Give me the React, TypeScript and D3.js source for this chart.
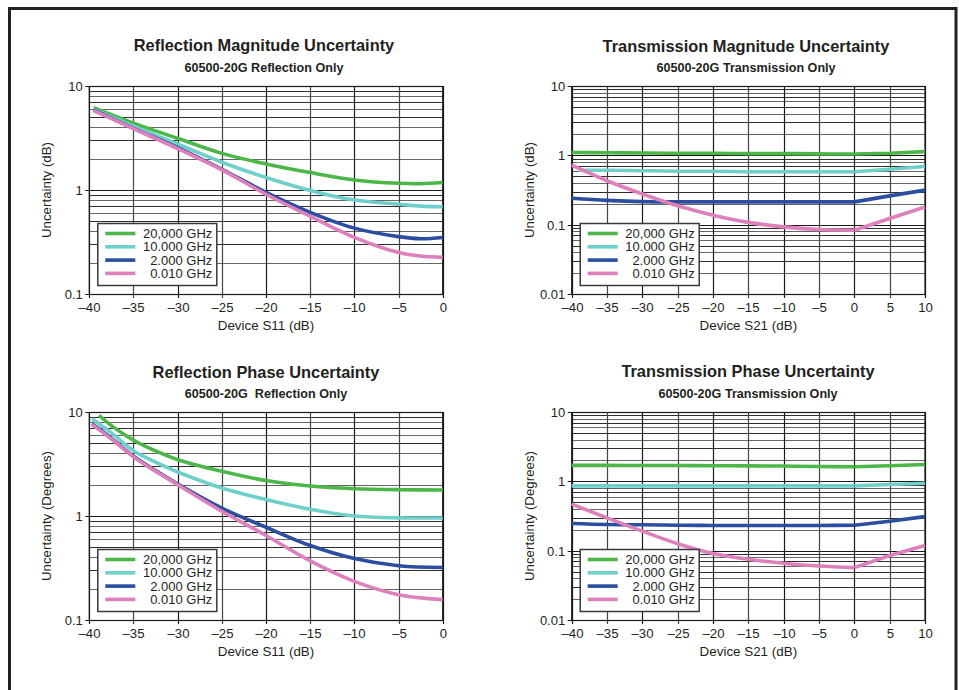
import React from 'react';
import * as d3 from 'd3';

const COLORS = ['#4cb748', '#6fcfcb', '#2b4ea1', '#dd80bb'];
const LEGEND_LABELS = ['20,000 GHz', '10.000 GHz', '2.000 GHz', '0.010 GHz'];

const X_TICKS_REFL = [-40, -35, -30, -25, -20, -15, -10, -5, 0];
const X_TICKS_TRANS = [-40, -35, -30, -25, -20, -15, -10, -5, 0, 5, 10];
const Y_TICKS_REFL = [0.1, 1, 10];
const Y_TICKS_TRANS = [0.01, 0.1, 1, 10];

// Reflection Magnitude
const rmX = [-39.5, -35, -30, -25, -20, -15, -10, -5, -2.5, 0];
const rmGreen = [6.2, 4.4, 3.14, 2.25, 1.78, 1.47, 1.25, 1.16, 1.15, 1.18];
const rmCyan = [6.0, 4.12, 2.77, 1.85, 1.32, 0.99, 0.8, 0.73, 0.7, 0.69];
const rmBlue = [5.9, 3.92, 2.55, 1.58, 0.95, 0.61, 0.43, 0.356, 0.34, 0.35];
const rmPink = [5.8, 3.9, 2.5, 1.56, 0.91, 0.56, 0.35, 0.25, 0.232, 0.225];

// Transmission Magnitude
const tmX = [-40, -35, -30, -25, -20, -15, -10, -5, 0, 5, 10];
const tmCyanX = [-39, -35, -30, -25, -20, -15, -10, -5, 0, 5, 10];
const tmGreen = [1.1, 1.09, 1.08, 1.07, 1.07, 1.06, 1.06, 1.05, 1.045, 1.07, 1.13];
const tmCyan = [0.61, 0.61, 0.6, 0.59, 0.59, 0.58, 0.58, 0.58, 0.58, 0.63, 0.69];
const tmBlue = [0.24, 0.224, 0.215, 0.213, 0.213, 0.213, 0.213, 0.213, 0.213, 0.26, 0.315];
const tmPink = [0.72, 0.43, 0.277, 0.187, 0.137, 0.108, 0.093, 0.085, 0.083, 0.123, 0.18];

// Reflection Phase
const rpGreenX = [-38.9, -37.5, -35, -32.5, -30, -25, -20, -15, -10, -5, 0];
const rpX = [-39.7, -37.5, -35, -32.5, -30, -25, -20, -15, -10, -5, 0];
const rpGreen = [9.3, 7.4, 5.35, 4.22, 3.48, 2.69, 2.19, 1.94, 1.83, 1.79, 1.78];
const rpCyan = [8.6, 6.3, 4.25, 3.3, 2.65, 1.86, 1.44, 1.16, 1.0, 0.96, 0.957];
const rpBlue = [7.7, 5.6, 3.75, 2.73, 2.03, 1.19, 0.78, 0.52, 0.39, 0.333, 0.32];
const rpPink = [7.6, 5.5, 3.7, 2.69, 2.0, 1.11, 0.65, 0.37, 0.235, 0.175, 0.157];

// Transmission Phase
const tpX = [-40, -35, -30, -25, -20, -15, -10, -5, 0, 5, 10];
const tpGreen = [1.7, 1.7, 1.69, 1.69, 1.68, 1.67, 1.66, 1.64, 1.62, 1.68, 1.75];
const tpCyan = [0.86, 0.86, 0.86, 0.86, 0.86, 0.86, 0.86, 0.86, 0.86, 0.9, 0.94];
const tpBlue = [0.246, 0.238, 0.236, 0.233, 0.231, 0.231, 0.231, 0.231, 0.233, 0.266, 0.31];
const tpPink = [0.47, 0.297, 0.191, 0.126, 0.091, 0.075, 0.066, 0.06, 0.057, 0.085, 0.119];

const FONT = "'Liberation Sans', Arial, Helvetica, sans-serif";
const TEXT = '#231f20';

type Series = { xs: number[]; ys: number[]; color: string };

interface PanelProps {
  left: number; top: number; right: number; bottom: number;
  xDomain: [number, number]; yDomain: [number, number];
  xTicks: number[]; yTicks: number[];
  title: string; subtitle: string; titleX: number; titleY: number; subtitleY: number;
  xLabel: string; yLabel: string; yLabelX: number;
  series: Series[]; split: boolean;
}

const fmtX = (v: number) => (v < 0 ? '\u2013' + Math.abs(v) : String(v));

function Panel(p: PanelProps) {
  const x = d3.scaleLinear().domain(p.xDomain).range([p.left, p.right]);
  const y = d3.scaleLog().domain(p.yDomain).range([p.bottom, p.top]);
  const lo = Math.round(Math.log10(p.yDomain[0]));
  const hi = Math.round(Math.log10(p.yDomain[1]));
  const hLines: { v: number; k: number }[] = [];
  for (let d = lo; d < hi; d++) {
    for (let k = 1; k <= 9; k++) hLines.push({ v: k * Math.pow(10, d), k });
  }
  hLines.push({ v: Math.pow(10, hi), k: 1 });
  const smooth = d3.line<[number, number]>().x(d => x(d[0])).y(d => y(d[1])).curve(d3.curveCatmullRom.alpha(0.5));
  const straight = d3.line<[number, number]>().x(d => x(d[0])).y(d => y(d[1]));
  const paths: { d: string; color: string }[] = [];
  p.series.forEach(s => {
    const pts: [number, number][] = s.xs.map((xv, i) => [xv, s.ys[i]]);
    if (p.split) {
      const a = pts.filter(q => q[0] <= 0);
      const b = pts.filter(q => q[0] >= 0);
      paths.push({ d: smooth(a) || '', color: s.color });
      paths.push({ d: straight(b) || '', color: s.color });
    } else {
      paths.push({ d: smooth(pts) || '', color: s.color });
    }
  });
  const lgX = p.left + 8.5;
  const lgW = 119;
  const lgH = 62;
  const lgY = p.bottom - 8.5 - lgH;
  const midY = (p.top + p.bottom) / 2;
  return (
    <g fontFamily={FONT} fill={TEXT}>
      <text x={p.titleX} y={p.titleY} textAnchor="middle" fontSize={16.4} fontWeight="bold">{p.title}</text>
      <text x={p.titleX} y={p.subtitleY} textAnchor="middle" fontSize={12.6} fontWeight="bold" style={{ whiteSpace: 'pre' }}>{p.subtitle}</text>
      {hLines.map((h, i) => {
        const yy = Math.round(y(h.v)) + 0.5;
        return <line key={'h' + i} x1={p.left} x2={p.right} y1={yy} y2={yy} stroke={h.k === 1 ? '#1a1a1a' : (h.k % 2 === 0 ? '#666' : '#2e2e2e')} strokeWidth={1.1} />;
      })}
      {p.xTicks.map((t, i) => {
        const xx = Math.round(x(t)) + 0.5;
        return (
          <g key={'v' + i}>
            <line x1={xx} x2={xx} y1={p.top} y2={p.bottom + 4} stroke={i % 2 === 0 ? '#1a1a1a' : '#444'} strokeWidth={1.2} />
            <text x={xx} y={p.bottom + 18} textAnchor="middle" fontSize={13.2}>{fmtX(t)}</text>
          </g>
        );
      })}
      {p.yTicks.map((t, i) => {
        const yy = Math.round(y(t)) + 0.5;
        return (
          <g key={'yt' + i}>
            <line x1={p.left - 4} x2={p.left} y1={yy} y2={yy} stroke="#1a1a1a" strokeWidth={1} />
            <text x={p.left - 6.5} y={yy + 4.5} textAnchor="end" fontSize={13}>{String(t)}</text>
          </g>
        );
      })}
      <rect x={p.left} y={Math.round(p.top) + 0.5} width={p.right - p.left} height={Math.round(p.bottom) - Math.round(p.top)} fill="none" stroke="#1a1a1a" strokeWidth={1.2} />
      {paths.map((pp, i) => (
        <path key={'p' + i} d={pp.d} fill="none" stroke={pp.color} strokeWidth={3.6} strokeLinecap="butt" strokeLinejoin="round" />
      ))}
      <text x={(p.left + p.right) / 2} y={p.bottom + 36} textAnchor="middle" fontSize={13.4}>{p.xLabel}</text>
      <text transform={`translate(${p.yLabelX},${midY}) rotate(-90)`} textAnchor="middle" fontSize={13.3} dy={4.5}>{p.yLabel}</text>
      <g>
        <rect x={lgX} y={lgY} width={lgW} height={lgH} fill="#fff" stroke="#3a3a3a" strokeWidth={1.5} />
        {LEGEND_LABELS.map((lab, i) => {
          const ly = lgY + 10 + i * 13.3;
          return (
            <g key={'lg' + i}>
              <line x1={lgX + 7.5} x2={lgX + 37.5} y1={ly} y2={ly} stroke={COLORS[i]} strokeWidth={3.6} />
              <text x={lgX + lgW - 4.5} y={ly + 4.6} textAnchor="end" fontSize={13}>{lab}</text>
            </g>
          );
        })}
      </g>
    </g>
  );
}

export default function App() {
  const mk = (xs: number[][], ys: number[][]): Series[] => ys.map((v, i) => ({ xs: xs[i], ys: v, color: COLORS[i] }));
  return (
    <svg width={959} height={690} style={{ position: 'absolute', left: 0, top: 0, background: '#fff' }}>
      <rect x={0} y={0} width={959} height={690} fill="#fff" />
      <rect x={9.5} y={8.5} width={946.5} height={700} fill="none" stroke="#222" strokeWidth={3} />
      <Panel left={89.3} right={442.7} top={86} bottom={294}
        xDomain={[-40, 0]} yDomain={[0.1, 10]} xTicks={X_TICKS_REFL} yTicks={Y_TICKS_REFL}
        title="Reflection Magnitude Uncertainty" subtitle="60500-20G Reflection Only"
        titleX={264} titleY={51} subtitleY={72}
        xLabel="Device S11 (dB)" yLabel="Uncertainty (dB)" yLabelX={46.7}
        series={mk([rmX, rmX, rmX, rmX], [rmGreen, rmCyan, rmBlue, rmPink])} split={false} />
      <Panel left={571.7} right={925} top={86} bottom={294}
        xDomain={[-40, 10]} yDomain={[0.01, 10]} xTicks={X_TICKS_TRANS} yTicks={Y_TICKS_TRANS}
        title="Transmission Magnitude Uncertainty" subtitle="60500-20G Transmission Only"
        titleX={746} titleY={52} subtitleY={72}
        xLabel="Device S21 (dB)" yLabel="Uncertainty (dB)" yLabelX={529}
        series={mk([tmX, tmCyanX, tmX, tmX], [tmGreen, tmCyan, tmBlue, tmPink])} split={true} />
      <Panel left={89.3} right={442.7} top={412} bottom={620}
        xDomain={[-40, 0]} yDomain={[0.1, 10]} xTicks={X_TICKS_REFL} yTicks={Y_TICKS_REFL}
        title="Reflection Phase Uncertainty" subtitle="60500-20G  Reflection Only"
        titleX={266} titleY={377.5} subtitleY={398}
        xLabel="Device S11 (dB)" yLabel="Uncertainty (Degrees)" yLabelX={46.7}
        series={mk([rpGreenX, rpX, rpX, rpX], [rpGreen, rpCyan, rpBlue, rpPink])} split={false} />
      <Panel left={571.7} right={925} top={412} bottom={620}
        xDomain={[-40, 10]} yDomain={[0.01, 10]} xTicks={X_TICKS_TRANS} yTicks={Y_TICKS_TRANS}
        title="Transmission Phase Uncertainty" subtitle="60500-20G Transmission Only"
        titleX={748} titleY={377} subtitleY={398}
        xLabel="Device S21 (dB)" yLabel="Uncertainty (Degrees)" yLabelX={529.5}
        series={mk([tpX, tpX, tpX, tpX], [tpGreen, tpCyan, tpBlue, tpPink])} split={true} />
    </svg>
  );
}
